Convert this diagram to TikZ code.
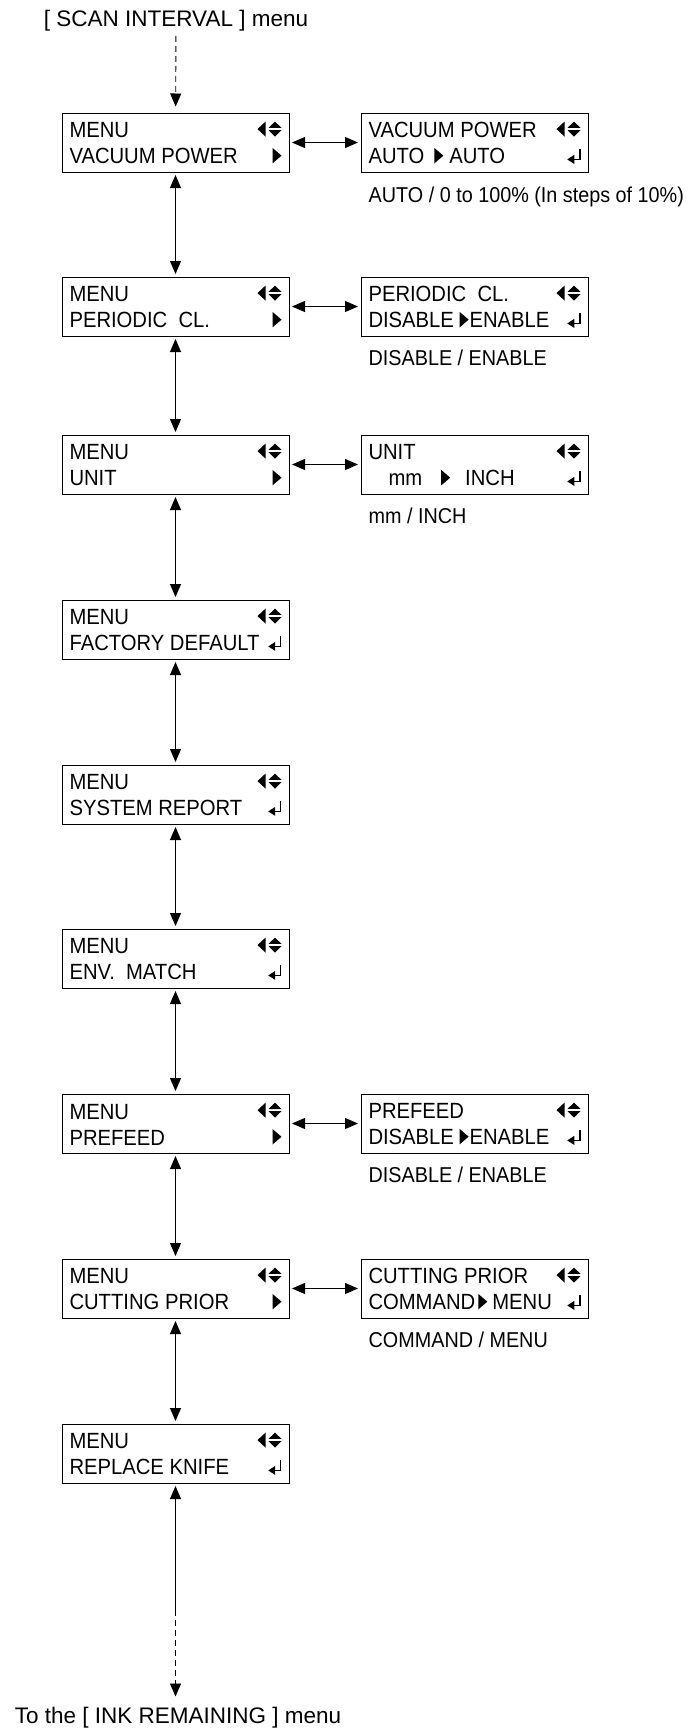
\documentclass[tikz,border=0pt]{standalone}
\usepackage{fontspec}
\setmainfont{Liberation Sans}
\newfontfamily\lcdfont{Liberation Sans}[FakeStretch=0.92]
\usetikzlibrary{arrows.meta,positioning}

% display marks
\newcommand\lcdkeys{\tikz[baseline=0pt]{\fill (0pt,8.8pt) -- (8pt,16.3pt) -- (8pt,1.3pt) -- cycle;
 \fill (11pt,10pt) -- (24pt,10pt) -- (17.5pt,16.3pt) -- cycle;
 \fill (11pt,7.8pt) -- (24pt,7.8pt) -- (17.5pt,1.3pt) -- cycle;}}
\newcommand\lcdnext{\tikz[baseline=0pt]\fill (0pt,0.5pt) -- (0pt,16pt) -- (9pt,8.25pt) -- cycle;}
\newcommand\lcdenter{\tikz[baseline=0pt]{\draw[line width=1.5pt] (12.5pt,14.5pt) -- (12.5pt,4.5pt) -- (5pt,4.5pt);
 \fill (0pt,4.5pt) -- (7pt,0pt) -- (7pt,9pt) -- cycle;}}
\newcommand\lcdrow[2]{\makebox[212pt][l]{\rule{0pt}{17pt}#1\hfill#2}}

\begin{document}
\begin{tikzpicture}[x=1pt,y=1pt,
 lcd/.style={draw,line width=1pt,minimum width=227pt,minimum height=59pt,inner xsep=7.5pt,inner ysep=0pt,align=left,font=\lcdfont\fontsize{22}{26}\selectfont},
 note/.style={anchor=base west,inner sep=0pt,font=\lcdfont\fontsize{21.5}{26}\selectfont},
 head/.style={anchor=base,inner sep=0pt,font=\fontsize{22.5}{27}\selectfont},
 navtip/.tip={Triangle[length=13pt,width=11pt]},
 nav/.style={navtip-navtip,line width=0.9pt,shorten <=2.5pt,shorten >=2.5pt},
 dashline/.style={line width=0.9pt,dash pattern=on 6pt off 4pt}]
 \useasboundingbox (0,0) rectangle (688,-1730);
 % menu column
 \foreach \nm/\y/\txt/\mk in {vac/142.5/VACUUM POWER/\lcdnext, per/306.5/PERIODIC~~CL./\lcdnext,
   unit/464.5/UNIT/\lcdnext, fac/629.5/FACTORY DEFAULT/\lcdenter, sys/794.5/SYSTEM REPORT/\lcdenter,
   env/958.5/ENV.~~MATCH/\lcdenter, pre/1123.5/PREFEED/\lcdnext, cut/1288.5/CUTTING PRIOR/\lcdnext,
   rep/1453.5/REPLACE KNIFE/\lcdenter}
  \node[lcd] (\nm) at (175.5,-\y) {\lcdrow{MENU}{\lcdkeys}\\\lcdrow{\txt}{\mk}};
 % setting screens
 \node[lcd,right=71pt of vac] (vacset) {\lcdrow{VACUUM POWER}{\lcdkeys}\\\lcdrow{AUTO\hspace{10pt}\lcdnext\hspace{6pt}AUTO}{\lcdenter}};
 \node[lcd,right=71pt of per] (perset) {\lcdrow{PERIODIC~~CL.}{\lcdkeys}\\\lcdrow{DISABLE \lcdnext\hspace{1pt}ENABLE}{\lcdenter}};
 \node[lcd,right=71pt of unit] (unitset) {\lcdrow{UNIT}{\lcdkeys}\\\lcdrow{\hspace{20pt}mm\hspace{19pt}\lcdnext\hspace{15pt}INCH}{\lcdenter}};
 \node[lcd,right=71pt of pre] (preset) {\lcdrow{PREFEED}{\lcdkeys}\\\lcdrow{DISABLE \lcdnext\hspace{1pt}ENABLE}{\lcdenter}};
 \node[lcd,right=71pt of cut] (cutset) {\lcdrow{CUTTING PRIOR}{\lcdkeys}\\\lcdrow{COMMAND\hspace{3pt}\lcdnext\hspace{5pt}MENU}{\lcdenter}};
 \node[note] (vacnote) at ([shift={(8pt,-30pt)}]vacset.south west) {AUTO / 0 to 100\% (In steps of 10\%)};
 \node[note] (pernote) at ([shift={(8pt,-28.5pt)}]perset.south west) {DISABLE / ENABLE};
 \node[note] (unitnote) at ([shift={(8pt,-28.5pt)}]unitset.south west) {mm / INCH};
 \node[note] (prenote) at ([shift={(8pt,-28.5pt)}]preset.south west) {DISABLE / ENABLE};
 \node[note] (cutnote) at ([shift={(8pt,-28.5pt)}]cutset.south west) {COMMAND / MENU};
 % connectors
 \foreach \a/\b in {vac/per,per/unit,unit/fac,fac/sys,sys/env,env/pre,pre/cut,cut/rep,
   vac/vacset,per/perset,unit/unitset,pre/preset,cut/cutset}
  \draw[nav] (\a) -- (\b);
 \node[head] (scan) at (176,-26) {[ SCAN INTERVAL ] menu};
 \draw[dashline,-navtip,shorten <=5pt,shorten >=6pt] (scan) -- (vac);
 \node[head] (ink) at (178,-1723) {To the [ INK REMAINING ] menu};
 \coordinate (brk) at (175.5,-1610);
 \draw[navtip-,line width=0.9pt,shorten <=2.5pt] (rep) -- (brk);
 \draw[dashline,-navtip,shorten >=10pt] (brk) -- (brk |- ink.north);
\end{tikzpicture}
\end{document}
